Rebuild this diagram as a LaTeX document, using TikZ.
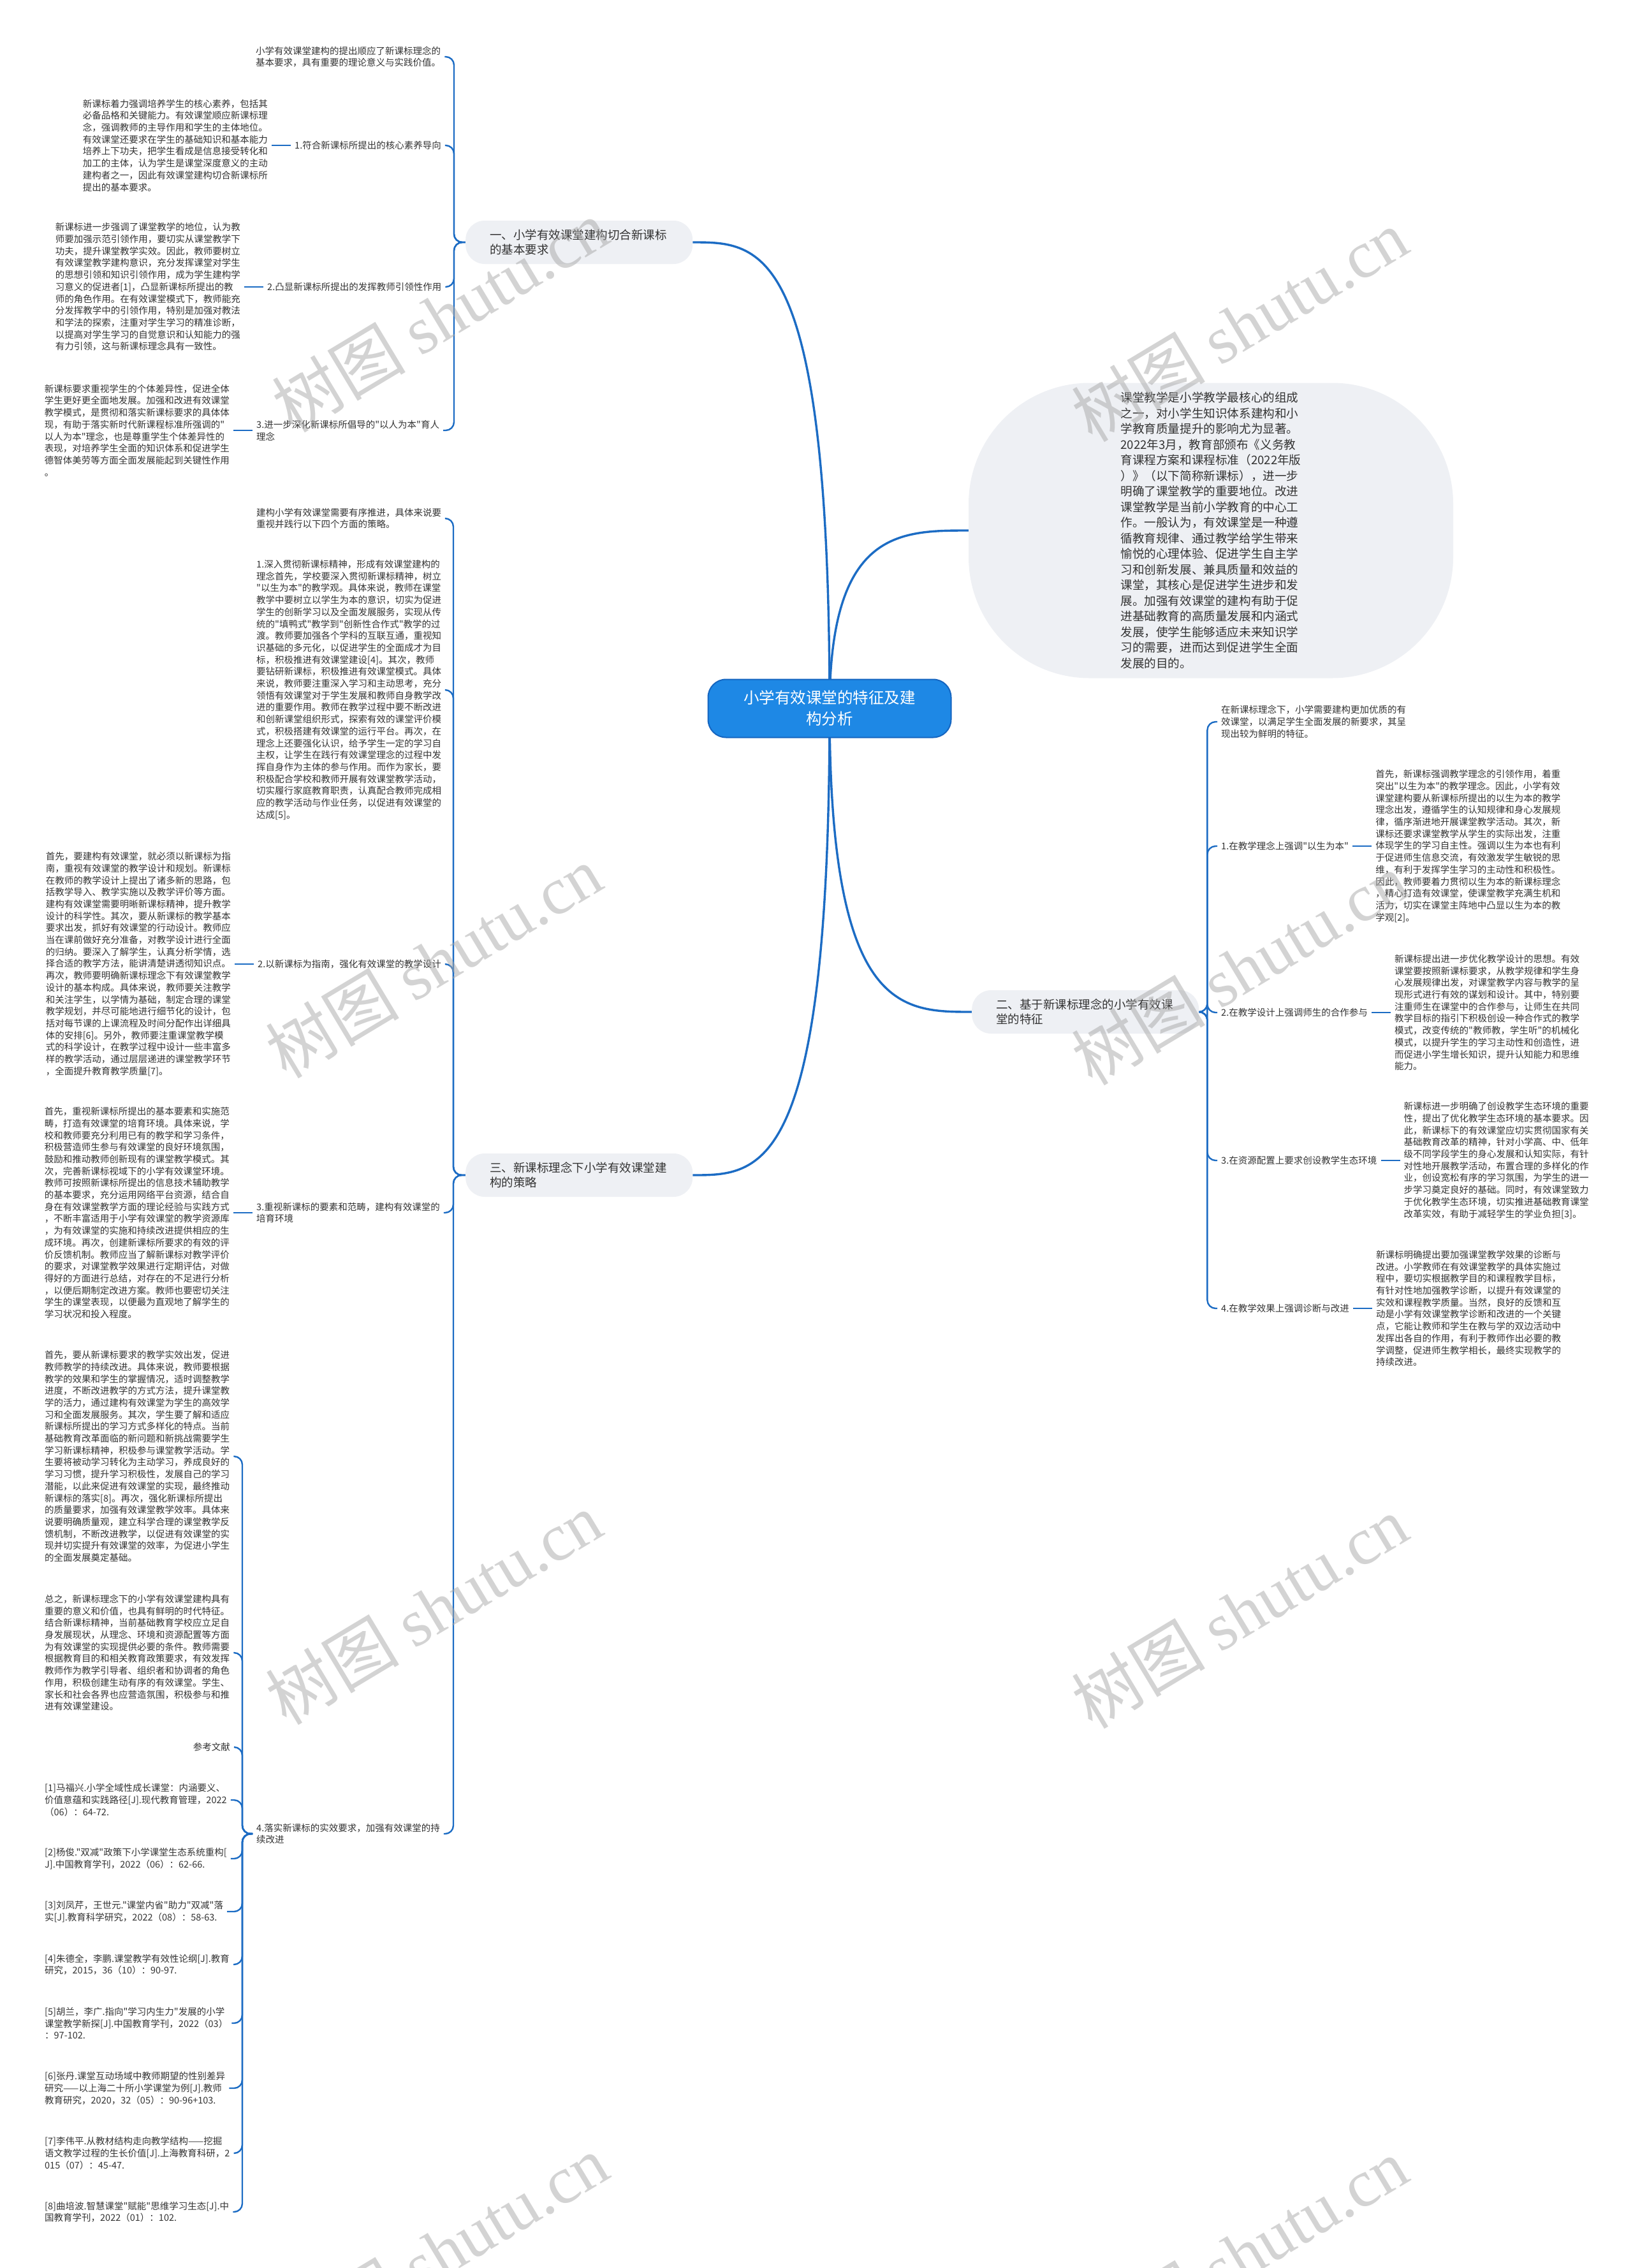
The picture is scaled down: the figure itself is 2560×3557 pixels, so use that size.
\documentclass[tikz,border=0pt]{standalone}
\usepackage{fontspec}
\newfontfamily\cjk{Noto Sans CJK SC}
\newfontfamily\wmserif{Liberation Serif}
\usetikzlibrary{positioning,calc}
\definecolor{conn}{HTML}{1C6CC4}
\definecolor{rootfill}{HTML}{1E88E5}
\definecolor{rootdraw}{HTML}{1565C0}
\definecolor{boxfill}{HTML}{EEF0F4}
\definecolor{txt}{HTML}{333333}
\definecolor{wm}{HTML}{A8A8A8}
\pgfdeclarelayer{bg}
\pgfdeclarelayer{fg}
\pgfsetlayers{bg,main,fg}
\tikzset{
  leaf/.style={font=\cjk\fontsize{14.5}{18.7}\selectfont, text=txt, align=left, inner xsep=6pt, inner ysep=2pt},
  branch/.style={font=\cjk\fontsize{18.5}{23}\selectfont, text=txt, align=left, fill=boxfill, rounded corners=30pt, text width=280pt, inner xsep=38pt, minimum height=68pt},
  rootbox/.style={font=\cjk\fontsize{24.5}{33}\selectfont, text=white, align=center, fill=rootfill, draw=rootdraw, line width=2pt, rounded corners=28pt, minimum width=381pt, minimum height=91pt},
  bubble/.style={font=\cjk\fontsize{18.6}{24.5}\selectfont, text=txt, align=left, fill=boxfill, rounded corners=190pt, minimum width=760pt, minimum height=463pt},
  conn/.style={draw=conn, line width=2.4pt},
  mainconn/.style={draw=conn, line width=3.4pt},
  wmark/.style={font=\cjk\fontsize{105}{105}\selectfont, text=wm, opacity=0.5, rotate=31}
}
\newcommand\bconn[3]{\draw[conn, rounded corners=13pt] (#1) -- (#2) -- (#2 |- #3) -- (#3);}
\begin{document}
\begin{tikzpicture}[x=1pt,y=-1pt]
\begin{pgfonlayer}{bg}
\fill[white] (0,0) rectangle (2560,3557);
\end{pgfonlayer}
\useasboundingbox (0,0) rectangle (2560,3557);

% ---------- root and main branches
\node[rootbox] (root) at (1301,1111) {小学有效课堂的特征及建\\构分析};
\node[bubble] (intro) at (1899,832) {课堂教学是小学教学最核心的组成\\之一，对小学生知识体系建构和小\\学教育质量提升的影响尤为显著。\\2022年3月，教育部颁布《义务教\\育课程方案和课程标准（2022年版\\）》（以下简称新课标），进一步\\明确了课堂教学的重要地位。改进\\课堂教学是当前小学教育的中心工\\作。一般认为，有效课堂是一种遵\\循教育规律、通过教学给学生带来\\愉悦的心理体验、促进学生自主学\\习和创新发展、兼具质量和效益的\\课堂，其核心是促进学生进步和发\\展。加强有效课堂的建构有助于促\\进基础教育的高质量发展和内涵式\\发展，使学生能够适应未来知识学\\习的需要，进而达到促进学生全面\\发展的目的。};
\node[branch, anchor=west] (b1) at (730,380) {一、小学有效课堂建构切合新课标\\的基本要求};
\node[branch, anchor=west] (b2) at (1524,1587) {二、基于新课标理念的小学有效课\\堂的特征};
\node[branch, anchor=west] (b3) at (730,1843) {三、新课标理念下小学有效课堂建\\构的策略};

% ---------- branch 1
\node[leaf, anchor=west] (a1) at (395,89) {小学有效课堂建构的提出顺应了新课标理念的\\基本要求，具有重要的理论意义与实践价值。};
\node[leaf, anchor=west] (l11) at (456,228) {1.符合新课标所提出的核心素养导向};
\node[leaf, left=30pt of l11] (a2) {新课标着力强调培养学生的核心素养，包括其\\必备品格和关键能力。有效课堂顺应新课标理\\念，强调教师的主导作用和学生的主体地位。\\有效课堂还要求在学生的基础知识和基本能力\\培养上下功夫，把学生看成是信息接受转化和\\加工的主体，认为学生是课堂深度意义的主动\\建构者之一，因此有效课堂建构切合新课标所\\提出的基本要求。};
\node[leaf, anchor=west] (l12) at (413,450) {2.凸显新课标所提出的发挥教师引领性作用};
\node[leaf, left=30pt of l12] (a3) {新课标进一步强调了课堂教学的地位，认为教\\师要加强示范引领作用，要切实从课堂教学下\\功夫，提升课堂教学实效。因此，教师要树立\\有效课堂教学建构意识，充分发挥课堂对学生\\的思想引领和知识引领作用，成为学生建构学\\习意义的促进者[1]，凸显新课标所提出的教\\师的角色作用。在有效课堂模式下，教师能充\\分发挥教学中的引领作用，特别是加强对教法\\和学法的探索，注重对学生学习的精准诊断，\\以提高对学生学习的自觉意识和认知能力的强\\有力引领，这与新课标理念具有一致性。};
\node[leaf, anchor=west] (l13) at (396,675) {3.进一步深化新课标所倡导的"以人为本"育人\\理念};
\node[leaf, left=30pt of l13] (a4) {新课标要求重视学生的个体差异性，促进全体\\学生更好更全面地发展。加强和改进有效课堂\\教学模式，是贯彻和落实新课标要求的具体体\\现，有助于落实新时代新课程标准所强调的"\\以人为本"理念，也是尊重学生个体差异性的\\表现，对培养学生全面的知识体系和促进学生\\德智体美劳等方面全面发展能起到关键性作用\\。};

% ---------- branch 3
\node[leaf, anchor=west] (a5) at (396,813) {建构小学有效课堂需要有序推进，具体来说要\\重视并践行以下四个方面的策略。};
\node[leaf, anchor=west] (a6) at (396,1082) {1.深入贯彻新课标精神，形成有效课堂建构的\\理念首先，学校要深入贯彻新课标精神，树立\\"以生为本"的教学观。具体来说，教师在课堂\\教学中要树立以学生为本的意识，切实为促进\\学生的创新学习以及全面发展服务，实现从传\\统的"填鸭式"教学到"创新性合作式"教学的过\\渡。教师要加强各个学科的互联互通，重视知\\识基础的多元化，以促进学生的全面成才为目\\标，积极推进有效课堂建设[4]。其次，教师\\要钻研新课标，积极推进有效课堂模式。具体\\来说，教师要注重深入学习和主动思考，充分\\领悟有效课堂对于学生发展和教师自身教学改\\进的重要作用。教师在教学过程中要不断改进\\和创新课堂组织形式，探索有效的课堂评价模\\式，积极搭建有效课堂的运行平台。再次，在\\理念上还要强化认识，给予学生一定的学习自\\主权，让学生在践行有效课堂理念的过程中发\\挥自身作为主体的参与作用。而作为家长，要\\积极配合学校和教师开展有效课堂教学活动，\\切实履行家庭教育职责，认真配合教师完成相\\应的教学活动与作业任务，以促进有效课堂的\\达成[5]。};
\node[leaf, anchor=west] (l32) at (398,1512) {2.以新课标为指南，强化有效课堂的教学设计};
\node[leaf, left=30pt of l32] (a7) {首先，要建构有效课堂，就必须以新课标为指\\南，重视有效课堂的教学设计和规划。新课标\\在教师的教学设计上提出了诸多新的思路，包\\括教学导入、教学实施以及教学评价等方面。\\建构有效课堂需要明晰新课标精神，提升教学\\设计的科学性。其次，要从新课标的教学基本\\要求出发，抓好有效课堂的行动设计。教师应\\当在课前做好充分准备，对教学设计进行全面\\的归纳。要深入了解学生，认真分析学情，选\\择合适的教学方法，能讲清楚讲透彻知识点。\\再次，教师要明确新课标理念下有效课堂教学\\设计的基本构成。具体来说，教师要关注教学\\和关注学生，以学情为基础，制定合理的课堂\\教学规划，并尽可能地进行细节化的设计，包\\括对每节课的上课流程及时间分配作出详细具\\体的安排[6]。另外，教师要注重课堂教学模\\式的科学设计，在教学过程中设计一些丰富多\\样的教学活动，通过层层递进的课堂教学环节\\，全面提升教育教学质量[7]。};
\node[leaf, anchor=west] (l33) at (396,1902) {3.重视新课标的要素和范畴，建构有效课堂的\\培育环境};
\node[leaf, left=30pt of l33] (a8) {首先，重视新课标所提出的基本要素和实施范\\畴，打造有效课堂的培育环境。具体来说，学\\校和教师要充分利用已有的教学和学习条件，\\积极营造师生参与有效课堂的良好环境氛围，\\鼓励和推动教师创新现有的课堂教学模式。其\\次，完善新课标视域下的小学有效课堂环境。\\教师可按照新课标所提出的信息技术辅助教学\\的基本要求，充分运用网络平台资源，结合自\\身在有效课堂教学方面的理论经验与实践方式\\，不断丰富适用于小学有效课堂的教学资源库\\，为有效课堂的实施和持续改进提供相应的生\\成环境。再次，创建新课标所要求的有效的评\\价反馈机制。教师应当了解新课标对教学评价\\的要求，对课堂教学效果进行定期评估，对做\\得好的方面进行总结，对存在的不足进行分析\\，以便后期制定改进方案。教师也要密切关注\\学生的课堂表现，以便最为直观地了解学生的\\学习状况和投入程度。};
\node[leaf, anchor=west] (l34) at (396,2876) {4.落实新课标的实效要求，加强有效课堂的持\\续改进};
\node[leaf, anchor=west] (a9) at (64,2284) {首先，要从新课标要求的教学实效出发，促进\\教师教学的持续改进。具体来说，教师要根据\\教学的效果和学生的掌握情况，适时调整教学\\进度，不断改进教学的方式方法，提升课堂教\\学的活力，通过建构有效课堂为学生的高效学\\习和全面发展服务。其次，学生要了解和适应\\新课标所提出的学习方式多样化的特点。当前\\基础教育改革面临的新问题和新挑战需要学生\\学习新课标精神，积极参与课堂教学活动。学\\生要将被动学习转化为主动学习，养成良好的\\学习习惯，提升学习积极性，发展自己的学习\\潜能，以此来促进有效课堂的实现，最终推动\\新课标的落实[8]。再次，强化新课标所提出\\的质量要求，加强有效课堂教学效率。具体来\\说要明确质量观，建立科学合理的课堂教学反\\馈机制，不断改进教学，以促进有效课堂的实\\现并切实提升有效课堂的效率，为促进小学生\\的全面发展奠定基础。};
\node[leaf, anchor=west] (a10) at (64,2592) {总之，新课标理念下的小学有效课堂建构具有\\重要的意义和价值，也具有鲜明的时代特征。\\结合新课标精神，当前基础教育学校应立足自\\身发展现状，从理念、环境和资源配置等方面\\为有效课堂的实现提供必要的条件。教师需要\\根据教育目的和相关教育政策要求，有效发挥\\教师作为教学引导者、组织者和协调者的角色\\作用，积极创建生动有序的有效课堂。学生、\\家长和社会各界也应营造氛围，积极参与和推\\进有效课堂建设。};
\node[leaf, anchor=east] (refh) at (367,2740) {参考文献};
\node[leaf, anchor=west] (r1) at (64,2823) {[1]马福兴.小学全域性成长课堂：内涵要义、\\价值意蕴和实践路径[J].现代教育管理，2022\\（06）：64-72.};
\node[leaf, anchor=west] (r2) at (64,2915) {[2]杨俊."双减"政策下小学课堂生态系统重构[\\J].中国教育学刊，2022（06）：62-66.};
\node[leaf, anchor=west] (r3) at (64,2998) {[3]刘凤芹，王世元."课堂内省"助力"双减"落\\实[J].教育科学研究，2022（08）：58-63.};
\node[leaf, anchor=west] (r4) at (64,3081) {[4]朱德全，李鹏.课堂教学有效性论纲[J].教育\\研究，2015，36（10）：90-97.};
\node[leaf, anchor=west] (r5) at (64,3173) {[5]胡兰，李广.指向"学习内生力"发展的小学\\课堂教学新探[J].中国教育学刊，2022（03）\\：97-102.};
\node[leaf, anchor=west] (r6) at (64,3275) {[6]张丹.课堂互动场域中教师期望的性别差异\\研究——以上海二十所小学课堂为例[J].教师\\教育研究，2020，32（05）：90-96+103.};
\node[leaf, anchor=west] (r7) at (64,3377) {[7]李伟平.从教材结构走向教学结构——挖掘\\语文教学过程的生长价值[J].上海教育科研，2\\015（07）：45-47.};
\node[leaf, anchor=west] (r8) at (64,3469) {[8]曲培波.智慧课堂"赋能"思维学习生态[J].中\\国教育学刊，2022（01）：102.};

% ---------- branch 2
\node[leaf, anchor=west] (c0) at (1909,1132) {在新课标理念下，小学需要建构更加优质的有\\效课堂，以满足学生全面发展的新要求，其呈\\现出较为鲜明的特征。};
\node[leaf, anchor=west] (l21) at (1909,1327) {1.在教学理念上强调"以生为本"};
\node[leaf, right=30pt of l21] (c1) {首先，新课标强调教学理念的引领作用，着重\\突出"以生为本"的教学理念。因此，小学有效\\课堂建构要从新课标所提出的以生为本的教学\\理念出发，遵循学生的认知规律和身心发展规\\律，循序渐进地开展课堂教学活动。其次，新\\课标还要求课堂教学从学生的实际出发，注重\\体现学生的学习自主性。强调以生为本也有利\\于促进师生信息交流，有效激发学生敏锐的思\\维，有利于发挥学生学习的主动性和积极性。\\因此，教师要着力贯彻以生为本的新课标理念\\，精心打造有效课堂，使课堂教学充满生机和\\活力，切实在课堂主阵地中凸显以生为本的教\\学观[2]。};
\node[leaf, anchor=west] (l22) at (1909,1588) {2.在教学设计上强调师生的合作参与};
\node[leaf, right=30pt of l22] (c2) {新课标提出进一步优化教学设计的思想。有效\\课堂要按照新课标要求，从教学规律和学生身\\心发展规律出发，对课堂教学内容与教学的呈\\现形式进行有效的谋划和设计。其中，特别要\\注重师生在课堂中的合作参与，让师生在共同\\教学目标的指引下积极创设一种合作式的教学\\模式，改变传统的"教师教，学生听"的机械化\\模式，以提升学生的学习主动性和创造性，进\\而促进小学生增长知识，提升认知能力和思维\\能力。};
\node[leaf, anchor=west] (l23) at (1909,1820) {3.在资源配置上要求创设教学生态环境};
\node[leaf, right=30pt of l23] (c3) {新课标进一步明确了创设教学生态环境的重要\\性，提出了优化教学生态环境的基本要求。因\\此，新课标下的有效课堂应切实贯彻国家有关\\基础教育改革的精神，针对小学高、中、低年\\级不同学段学生的身心发展和认知实际，有针\\对性地开展教学活动，布置合理的多样化的作\\业，创设宽松有序的学习氛围，为学生的进一\\步学习奠定良好的基础。同时，有效课堂致力\\于优化教学生态环境，切实推进基础教育课堂\\改革实效，有助于减轻学生的学业负担[3]。};
\node[leaf, anchor=west] (l24) at (1909,2052) {4.在教学效果上强调诊断与改进};
\node[leaf, right=30pt of l24] (c4) {新课标明确提出要加强课堂教学效果的诊断与\\改进。小学教师在有效课堂教学的具体实施过\\程中，要切实根据教学目的和课程教学目标，\\有针对性地加强教学诊断，以提升有效课堂的\\实效和课程教学质量。当然，良好的反馈和互\\动是小学有效课堂教学诊断和改进的一个关键\\点，它能让教师和学生在教与学的双边活动中\\发挥出各自的作用，有利于教师作出必要的教\\学调整，促进师生教学相长，最终实现教学的\\持续改进。};

% ---------- connectors
\begin{pgfonlayer}{bg}
\draw[mainconn] (root.center) .. controls (root.center |- b1.east) and ($(b1.east)!0.5!(root.center |- b1.east)$) .. (b1.east);
\draw[mainconn] (root.center) .. controls (root.center |- intro.west) and ($(intro.west)!0.5!(root.center |- intro.west)$) .. (intro.west);
\draw[mainconn] (root.center) .. controls (root.center |- b2.west) and ($(b2.west)!0.5!(root.center |- b2.west)$) .. (b2.west);
\draw[mainconn] (root.center) .. controls (root.center |- b3.east) and ($(b3.east)!0.5!(root.center |- b3.east)$) .. (b3.east);

\coordinate (s1) at ([xshift=-18pt]b1.west);
\foreach \c in {a1,l11,l12,l13} {\bconn{b1.west}{s1}{\c.east}}
\draw[conn] (l11.west) -- (a2.east);
\draw[conn] (l12.west) -- (a3.east);
\draw[conn] (l13.west) -- (a4.east);

\coordinate (s3) at ([xshift=-19pt]b3.west);
\foreach \c in {a5,a6,l32,l33,l34} {\bconn{b3.west}{s3}{\c.east}}
\draw[conn] (l32.west) -- (a7.east);
\draw[conn] (l33.west) -- (a8.east);
\coordinate (s4) at ([xshift=-16pt]l34.west);
\foreach \c in {a9,a10,refh,r1,r2,r3,r4,r5,r6,r7,r8} {\bconn{l34.west}{s4}{\c.east}}

\coordinate (s2) at ([xshift=13pt]b2.east);
\foreach \c in {c0,l21,l22,l23,l24} {\bconn{b2.east}{s2}{\c.west}}
\draw[conn] (l21.east) -- (c1.west);
\draw[conn] (l22.east) -- (c2.west);
\draw[conn] (l23.east) -- (c3.west);
\draw[conn] (l24.east) -- (c4.west);
\end{pgfonlayer}

% ---------- watermarks
\begin{pgfonlayer}{fg}
\node[wmark] (wm1) at (690,495) {树图 {\wmserif shutu.cn}};
\node[wmark] (wm2) at (1944,510) {树图 {\wmserif shutu.cn}};
\node[wmark] (wm3) at (680,1508) {树图 {\wmserif shutu.cn}};
\node[wmark] (wm4) at (1944,1519) {树图 {\wmserif shutu.cn}};
\node[wmark] (wm5) at (680,2522) {树图 {\wmserif shutu.cn}};
\node[wmark] (wm6) at (1944,2528) {树图 {\wmserif shutu.cn}};
\node[wmark] (wm7) at (690,3530) {树图 {\wmserif shutu.cn}};
\node[wmark] (wm8) at (1944,3535) {树图 {\wmserif shutu.cn}};
\end{pgfonlayer}
\end{tikzpicture}
\end{document}
